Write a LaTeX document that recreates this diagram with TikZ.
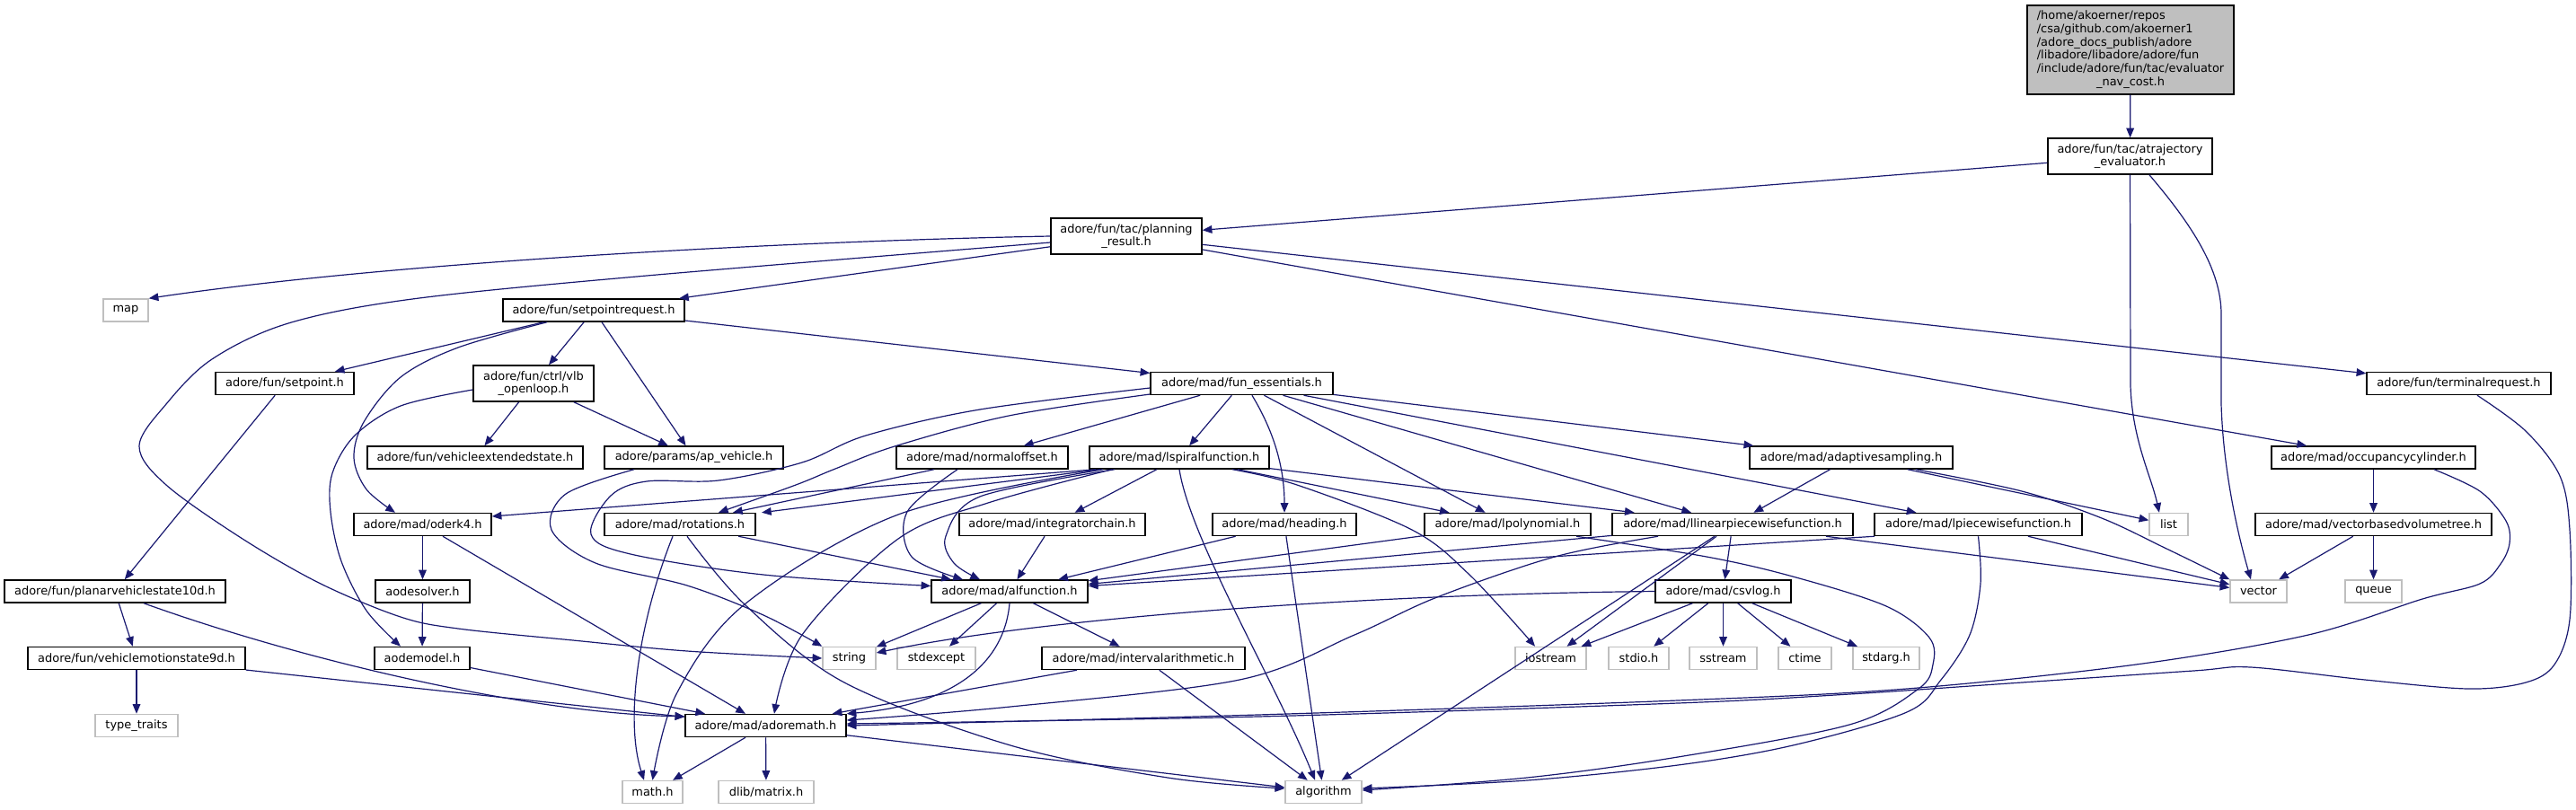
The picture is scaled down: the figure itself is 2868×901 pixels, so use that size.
\documentclass[tikz,border=0pt]{standalone}
\usepackage{fontspec}
\setmainfont{DejaVu Sans}
\usetikzlibrary{arrows.meta}
\definecolor{edgeblue}{HTML}{191970}
\definecolor{greyseventyfive}{HTML}{BFBFBF}
\tikzset{
  nbox/.style={draw=black, fill=white, line width=1.1pt, inner sep=0pt, align=center, font=\fontsize{9.7pt}{11pt}\selectfont},
  sysbox/.style={nbox, draw=greyseventyfive},
  rootbox/.style={nbox, fill=greyseventyfive},
  edg/.style={draw=edgeblue, line width=0.9pt, -{Triangle[length=8pt,width=6.5pt]}},
  sm/.style={smooth, tension=0.55},
}
\newcommand{\mk}[7]{\node[#1,minimum width={#5*0.75pt},minimum height={#6*0.75pt}] (#2) at (#3,#4) {#7};}
\begin{document}
\begin{tikzpicture}[x=0.75pt,y=-0.75pt]
\fill[white] (0,0) rectangle (2868,901);
\useasboundingbox (0,0) rectangle (2868,901);
% nodes
\mk{rootbox}{root}{2372}{55.5}{230}{99}{\begin{tabular}{@{}l@{}}/home/akoerner/repos\\/csa/github.com/akoerner1\\/adore\_docs\_publish/adore\\/libadore/libadore/adore/fun\\/include/adore/fun/tac/evaluator\\\multicolumn{1}{@{}c@{}}{\_nav\_cost.h}\end{tabular}}
\mk{nbox}{atraj}{2371.5}{174}{183}{40}{adore/fun/tac/atrajectory\\\_evaluator.h}
\mk{nbox}{planning}{1254}{263}{168}{40}{adore/fun/tac/planning\\\_result.h}
\mk{sysbox}{map}{140}{345.5}{50}{25}{map}
\mk{nbox}{spreq}{661}{345.5}{202}{25}{adore/fun/setpointrequest.h}
\mk{nbox}{setpoint}{317}{427}{154}{25}{adore/fun/setpoint.h}
\mk{nbox}{vlb}{594}{427}{134}{40}{adore/fun/ctrl/vlb\\\_openloop.h}
\mk{nbox}{funess}{1382.5}{427}{203}{25}{adore/mad/fun\_essentials.h}
\mk{nbox}{termreq}{2737.5}{427}{205}{25}{adore/fun/terminalrequest.h}
\mk{nbox}{vehext}{529}{509.5}{240}{25}{adore/fun/vehicleextendedstate.h}
\mk{nbox}{apveh}{772.5}{509.5}{199}{25}{adore/params/ap\_vehicle.h}
\mk{nbox}{normoff}{1093.5}{509.5}{191}{25}{adore/mad/normaloffset.h}
\mk{nbox}{lspiral}{1313}{509.5}{200}{25}{adore/mad/lspiralfunction.h}
\mk{nbox}{adapt}{2061}{509.5}{226}{25}{adore/mad/adaptivesampling.h}
\mk{nbox}{occcyl}{2642.5}{509.5}{227}{25}{adore/mad/occupancycylinder.h}
\mk{nbox}{oderk}{470.5}{584}{153}{25}{adore/mad/oderk4.h}
\mk{nbox}{rot}{757}{584}{168}{25}{adore/mad/rotations.h}
\mk{nbox}{integ}{1171.5}{584}{207}{25}{adore/mad/integratorchain.h}
\mk{nbox}{heading}{1430}{584}{160}{25}{adore/mad/heading.h}
\mk{nbox}{lpoly}{1678.5}{584}{185}{25}{adore/mad/lpolynomial.h}
\mk{nbox}{llin}{1929}{584}{268}{25}{adore/mad/llinearpiecewisefunction.h}
\mk{nbox}{lpw}{2202.5}{584}{231}{25}{adore/mad/lpiecewisefunction.h}
\mk{sysbox}{list}{2414.5}{584}{43}{25}{list}
\mk{nbox}{vbvt}{2642.5}{584}{263}{25}{adore/mad/vectorbasedvolumetree.h}
\mk{nbox}{planar}{128}{658.5}{246}{25}{adore/fun/planarvehiclestate10d.h}
\mk{nbox}{aodesolver}{470.5}{658.5}{105}{25}{aodesolver.h}
\mk{nbox}{alf}{1124}{658.5}{174}{25}{adore/mad/alfunction.h}
\mk{nbox}{csvlog}{1918.5}{658.5}{151}{25}{adore/mad/csvlog.h}
\mk{sysbox}{vector}{2514.5}{658.5}{63}{25}{vector}
\mk{sysbox}{queue}{2642.5}{658.5}{63}{25}{queue}
\mk{nbox}{motion}{152}{733}{242}{25}{adore/fun/vehiclemotionstate9d.h}
\mk{nbox}{aodemodel}{470}{733}{106}{25}{aodemodel.h}
\mk{sysbox}{string}{945.5}{733}{59}{25}{string}
\mk{sysbox}{stdexcept}{1042.5}{733}{87}{25}{stdexcept}
\mk{nbox}{interval}{1273}{733}{226}{25}{adore/mad/intervalarithmetic.h}
\mk{sysbox}{iostream}{1726.5}{733}{79}{25}{iostream}
\mk{sysbox}{stdio}{1824.5}{733}{67}{25}{stdio.h}
\mk{sysbox}{sstream}{1918.5}{733}{75}{25}{sstream}
\mk{sysbox}{ctime}{2009.5}{733}{59}{25}{ctime}
\mk{sysbox}{stdarg}{2100}{733}{74}{25}{stdarg.h}
\mk{sysbox}{typetraits}{152}{808}{92}{25}{type\_traits}
\mk{nbox}{adoremath}{852.5}{808}{179}{25}{adore/mad/adoremath.h}
\mk{sysbox}{mathh}{726.5}{882}{67}{25}{math.h}
\mk{sysbox}{dlib}{853}{882}{106}{25}{dlib/matrix.h}
\mk{sysbox}{algorithm}{1473.5}{882}{85}{25}{algorithm}
% helper coordinates
\coordinate (c-pl-s) at ([yshift=-5.25pt]planning.west);
\coordinate (c-sp-s) at ([xshift=-39pt]spreq.south);
\coordinate (c-od-e) at ([xshift=-22.9pt]oderk.north);
\coordinate (c-vl-s) at ([yshift=-5.25pt]vlb.west);
\coordinate (c-am-e) at ([xshift=-18pt]aodemodel.north);
\coordinate (c-ap-s) at ([xshift=-49.9pt]apveh.south);
\coordinate (c-fa-s) at ([yshift=-3.75pt]funess.west);
\coordinate (c-fa-e) at ([yshift=4.5pt]alf.west);
\coordinate (c-fr-s) at ([yshift=-9pt]funess.west);
\coordinate (c-fr-e) at ([xshift=32.25pt]rot.north);
\coordinate (c-tr-s) at ([xshift=15.4pt]termreq.south);
\coordinate (c-tr-e) at ([yshift=1.5pt]adoremath.east);
\coordinate (c-oc-s) at ([xshift=50.6pt]occcyl.south);
\coordinate (c-lpw-e) at ([yshift=3pt]algorithm.east);
\coordinate (c-lp-s) at ([xshift=57.4pt]lpoly.south);
\coordinate (c-lp-e) at ([yshift=1.5pt]algorithm.east);
\coordinate (c-ll-s) at ([xshift=-62.25pt]llin.south);
\coordinate (c-ll-e) at ([yshift=4.5pt]adoremath.east);
\coordinate (c-ad-s) at ([xshift=54pt]adapt.south);
\coordinate (c-ls-io-s) at ([xshift=44.25pt]lspiral.south);
\coordinate (c-ls-io-e) at ([xshift=-13.1pt]iostream.north);
\coordinate (c-ls-mh-s) at ([xshift=-63.75pt]lspiral.south);
\coordinate (c-ls-am-s) at ([xshift=-56.25pt]lspiral.south);
\coordinate (c-ls-am-e) at ([xshift=7.1pt]adoremath.north);
\coordinate (c-ls-al-s) at ([xshift=-54pt]lspiral.south);
\coordinate (c-ls-al-e) at ([xshift=-24.75pt]alf.north);
\coordinate (c-no-al-s) at ([xshift=-20.6pt]normoff.south);
\coordinate (c-no-al-e) at ([xshift=-39pt]alf.north);
\coordinate (c-ro-ag-s) at ([xshift=6pt]rot.south);
\coordinate (c-ro-ag-e) at ([yshift=3pt]algorithm.west);
% edges: top part
\draw[edg] (root) -- (atraj);
\draw[edg] (atraj) -- (planning);
\draw[edg] (atraj.south) -- (2372,430) .. controls (2374,490) and (2395,530) .. ([xshift=-7.9pt]list.north);
\draw[edg] ([xshift=16.1pt]atraj.south) .. controls (2440,250) and (2473,300) .. (2473,350) -- (2473,450) .. controls (2475,520) and (2490,590) .. ([xshift=-6.4pt]vector.north);
\draw[edg] (planning.west) .. controls (900,268) and (450,290) .. (map.north east);
\draw[edg] plot[sm] coordinates {(c-pl-s) (720,307) (459,333) (321,360) (236,400) (185,450) (155,497) (185,540) (270,600) (357,650) (446,687) (510,700) (638,713) (765,725) (string.west)};
\draw[edg] (planning) -- (spreq);
\draw[edg] (planning) -- (termreq);
\draw[edg] (planning) -- (occcyl);
% setpointrequest
\draw[edg] (spreq) -- (setpoint);
\draw[edg] (spreq) -- (vlb);
\draw[edg] (spreq) -- (apveh);
\draw[edg] (spreq) -- (funess);
\draw[edg] plot[sm] coordinates {(c-sp-s) (510,387) (446,420) (405,470) (394,510) (408,545) (c-od-e)};
\draw[edg] (setpoint) -- (planar);
\draw[edg] (vlb) -- (vehext);
\draw[edg] (vlb) -- (apveh);
\draw[edg] plot[sm] coordinates {(c-vl-s) (446,452) (395,485) (370,527) (368,570) (380,625) (408,680) (c-am-e)};
\draw[edg] plot[sm] coordinates {(c-ap-s) (630,550) (614,590) (663,627) (765,652) (850,685) (string.north west)};
% fun_essentials
\draw[edg] (funess) -- (normoff);
\draw[edg] (funess) -- (lspiral);
\draw[edg] ([xshift=8.6pt]funess.south) .. controls (1418,480) and (1430,520) .. (heading.north);
\draw[edg] (funess) -- (lpoly);
\draw[edg] (funess) -- (llin);
\draw[edg] (funess) -- (lpw);
\draw[edg] (funess) -- (adapt);
\draw[edg] plot[sm] coordinates {(c-fr-s) (1123,463) (996,497) (930,522) (886,540) (c-fr-e)};
\draw[edg] plot[sm] coordinates {(c-fa-s) (1091,456) (964,485) (893,515) (800,535) (720,536) (680,552) (658,595) (702,617) (850,640) (c-fa-e)};
% terminal / occupancy
\draw[edg] plot[sm] coordinates {(c-tr-s) (2812,480) (2850,530) (2861,590) (2861,690) (2844,740) (2812,760) (2748,767) (2633,757) (2506,743) (2442,747) (2251,760) (2059,773) (1868,783) (1400,798) (c-tr-e)};
\draw[edg] (occcyl) -- (vbvt);
\draw[edg] plot[sm] coordinates {(c-oc-s) (2761,547) (2790,580) (2794,605) (2784,628) (2761,650) (2697,667) (2570,707) (2378,740) (2123,767) (1868,780) (1400,796) (adoremath.east)};
\draw[edg] (vbvt) -- (vector);
\draw[edg] (vbvt) -- (queue);
% adaptive sampling
\draw[edg] (adapt) -- (llin);
\draw[edg] (adapt) -- (list);
\draw[edg] plot[sm] coordinates {(c-ad-s) (2251,547) (2340,577) (2410,610) (vector.north west)};
% lpiecewise
\draw[edg] ([xshift=-86.6pt]lpw.south) -- ([yshift=4.5pt]alf.east);
\draw[edg] (lpw) -- (vector);
\draw[edg] plot[sm] coordinates {(lpw.south) (2205,650) (2193,707) (2161,757) (2123,793) (1996,830) (1868,852) (1700,869) (c-lpw-e)};
% llinear
\draw[edg] (llin) -- (alf);
\draw[edg] (llin) -- (csvlog);
\draw[edg] (llin) -- (vector);
\draw[edg] (llin) -- (iostream);
\draw[edg] (llin) -- (algorithm);
\draw[edg] plot[sm] coordinates {(c-ll-s) (1731,620) (1600,665) (1508,707) (1380,757) (1125,787) (c-ll-e)};
% lpolynomial
\draw[edg] (lpoly) -- (alf);
\draw[edg] plot[sm] coordinates {(c-lp-s) (1900,620) (1996,642) (2100,675) (2148,710) (2152,740) (2136,767) (2059,807) (1868,843) (1700,866) (c-lp-e)};
% lspiral
\draw[edg] ([xshift=-69.75pt]lspiral.south) -- ([yshift=6.75pt]oderk.east);
\draw[edg] ([xshift=-66pt]lspiral.south) -- ([xshift=68.25pt]rot.north);
\draw[edg] (lspiral) -- (integ);
\draw[edg] plot[sm] coordinates {(c-ls-al-s) (1091,553) (1053,597) (1062,627) (c-ls-al-e)};
\draw[edg] (lspiral) -- (lpoly);
\draw[edg] (lspiral) -- (llin);
\draw[edg] plot[sm] coordinates {(c-ls-io-s) (1444,540) (1572,590) (1636,640) (c-ls-io-e)};
\draw[edg] (lspiral.south) .. controls (1325,600) and (1420,760) .. ([xshift=-7.1pt]algorithm.north);
\draw[edg] plot[sm] coordinates {(c-ls-mh-s) (1000,573) (829,673) (753,773) (mathh.north)};
\draw[edg] plot[sm] coordinates {(c-ls-am-s) (1100,560) (1000,600) (893,707) (c-ls-am-e)};
% normaloffset, heading, integratorchain
\draw[edg] ([xshift=-40.1pt]normoff.south) -- ([xshift=44.25pt]rot.north);
\draw[edg] plot[sm] coordinates {(c-no-al-s) (1010,570) (1015,620) (c-no-al-e)};
\draw[edg] (heading) -- (alf);
\draw[edg] (heading) -- (algorithm);
\draw[edg] (integ) -- (alf);
% rotations
\draw[edg] (rot) -- (alf);
\draw[edg] ([xshift=-6pt]rot.south) .. controls (712,690) and (695,800) .. ([xshift=-7.1pt]mathh.north);
\draw[edg] plot[sm] coordinates {(c-ro-ag-s) (829,673) (940,760) (1125,830) (1300,866) (c-ro-ag-e)};
% oderk4 etc
\draw[edg] (oderk) -- (aodesolver);
\draw[edg] (oderk) -- (adoremath);
\draw[edg] (aodesolver) -- (aodemodel);
\draw[edg] (aodemodel) -- (adoremath);
\draw[edg] (planar) -- (motion);
\draw[edg] ([xshift=24pt]planar.south) .. controls (350,740) and (600,795) .. ([yshift=-2.25pt]adoremath.north west);
\draw[edg] (motion) -- (typetraits);
\draw[edg] (motion) -- (adoremath);
% alfunction
\draw[edg] (alf) -- (string);
\draw[edg] (alf) -- (stdexcept);
\draw[edg] (alf) -- (interval);
\draw[edg] (alf.south) .. controls (1118,740) and (1060,785) .. (adoremath.north east);
\draw[edg] (interval) -- (adoremath);
\draw[edg] (interval) -- (algorithm);
% csvlog
\draw[edg] (csvlog.west) .. controls (1500,662) and (1150,690) .. ([yshift=4.5pt]string.east);
\draw[edg] (csvlog) -- (iostream);
\draw[edg] (csvlog) -- (stdio);
\draw[edg] (csvlog) -- (sstream);
\draw[edg] (csvlog) -- (ctime);
\draw[edg] (csvlog) -- (stdarg);
% adoremath
\draw[edg] (adoremath) -- (mathh);
\draw[edg] (adoremath) -- (dlib);
\draw[edg] (adoremath) -- (algorithm);
\end{tikzpicture}
\end{document}
